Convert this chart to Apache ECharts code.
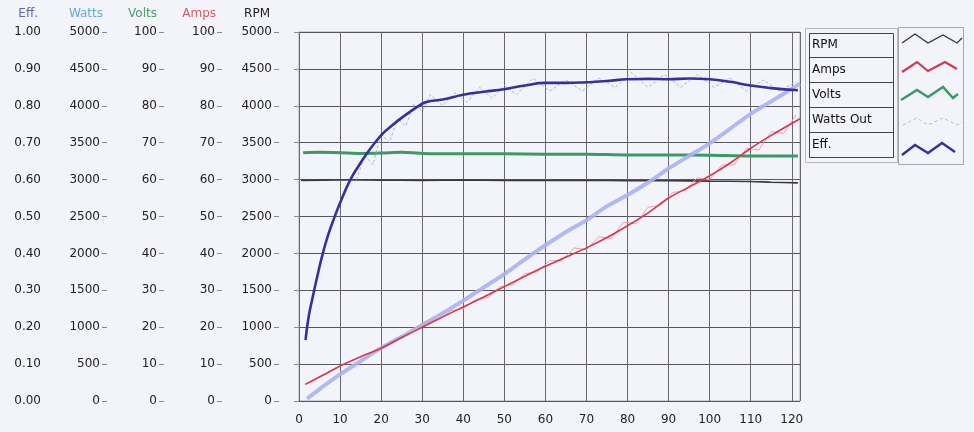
<!DOCTYPE html>
<html><head><meta charset="utf-8">
<script src="https://cdn.jsdelivr.net/npm/echarts@6/dist/echarts.min.js"></script>
<style>html,body{margin:0;padding:0;background:#f3f4f9}#c{width:974px;height:432px}</style>
</head><body><div id="c"></div>
<script>
// ---- axes ----
const axisNames = ['Eff.', 'Watts', 'Volts', 'Amps', 'RPM'];
const axisMax = [1, 5000, 100, 100, 5000];
const axisStep = [0.1, 500, 10, 10, 500];
const xTickStep = 10;
const xMax = 122;

// ---- series values [x, value] ----
const effPoints = [[1.6,0.165],[2.3,0.225],[3.3,0.28],[4.5,0.34],[5.8,0.40],[7.1,0.45],[8.6,0.497],[10.3,0.545],[12.4,0.597],[14.5,0.637],[16.6,0.672],[18.5,0.70],[20.5,0.726],[22.5,0.745],[24.6,0.764],[28.8,0.797],[31,0.81],[35,0.817],[40,0.83],[45,0.838],[50,0.845],[55,0.855],[60,0.862],[65,0.862],[70,0.864],[75,0.867],[80,0.872],[85,0.873],[90,0.872],[95,0.874],[100,0.872],[105,0.865],[110,0.855],[115,0.848],[121.5,0.842]];
const effRawPoints = [[14,0.60],[16,0.665],[18,0.64],[20,0.725],[22,0.70],[24,0.765],[26,0.745],[28,0.805],[30,0.785],[32,0.83],[35,0.80],[38,0.835],[41,0.81],[44,0.85],[47,0.82],[50,0.855],[53,0.83],[57,0.875],[61,0.84],[65,0.87],[69,0.84],[73,0.875],[77,0.85],[81,0.89],[85,0.85],[89,0.885],[93,0.85],[97,0.885],[101,0.85],[105,0.875],[109,0.84],[113,0.87],[117,0.84],[121,0.865]];
const wattsPoints = [[2,30],[5,160],[10,360],[15,540],[20,720],[25,870],[30,1030],[35,1190],[40,1360],[45,1540],[50,1720],[55,1920],[60,2110],[65,2290],[70,2450],[75,2640],[80,2790],[85,2960],[90,3150],[95,3320],[100,3490],[105,3690],[110,3890],[115,4060],[122,4300]];
const voltsPoints = [[1,67.3],[5,67.4],[10,67.3],[15,67.1],[20,67.2],[25,67.4],[30,67.1],[40,67.0],[50,67.0],[60,66.9],[70,66.9],[80,66.7],[90,66.7],[100,66.6],[110,66.4],[121.5,66.4]];
const ampsPoints = [[1.5,4.5],[5,6.5],[10,9.5],[15,12],[20,14.3],[25,17.2],[30,20],[35,22.8],[40,25.5],[45,28.2],[50,31],[55,33.8],[60,36.5],[65,39],[70,41.5],[75,44.3],[80,47.5],[85,51],[90,55],[95,58],[100,61],[105,64.5],[110,68.5],[115,72],[122,76.5]];
const ampsRawPoints = [[28,19.5],[31,21.5],[34,22],[37,24.5],[40,25],[43,27.5],[46,28],[49,31],[52,31.5],[55,34.5],[58,35],[61,38],[64,38],[67,41.5],[70,41],[73,44.5],[76,44],[79,48.5],[82,48],[85,52.5],[88,53],[91,56.5],[94,57],[97,60.5],[100,60],[103,64],[106,64],[109,68.5],[112,68],[115,73],[118,72.5],[121,77.5]];
const rpmPoints = [[0.5,2990],[10,2995],[20,2992],[30,2990],[40,2993],[50,2990],[60,2988],[70,2990],[80,2985],[90,2985],[100,2980],[110,2975],[115,2965],[121.5,2955]];
const legendLabels = ['RPM', 'Amps', 'Volts', 'Watts Out', 'Eff.'];

// ---- styles ----
const FONT = '"DejaVu Sans", Verdana, sans-serif';
const axisOffsets = [251, 192, 135, 77, 20];
const nameRight = [38, 103, 157, 216, 270];
const nameColors = ['#5a66b2', '#5fa8e6', '#4a9e64', '#d6596a', '#222'];

const chart = echarts.init(document.getElementById('c'));

const legendRows = [45, 69.5, 94.5, 119.5, 144.5];
const graphic = [
  {type:'rect', shape:{x:805.5, y:28.5, width:92, height:134}, style:{fill:'none', stroke:'#b8b8bc', lineWidth:1}},
  {type:'rect', shape:{x:898.5, y:27.5, width:65, height:137}, style:{fill:'none', stroke:'#a8a8ac', lineWidth:1}},
  {type:'rect', shape:{x:809.5, y:33.5, width:84, height:124}, style:{fill:'none', stroke:'#444', lineWidth:1}},
  {type:'line', shape:{x1:809.5, y1:57.5, x2:893.5, y2:57.5}, style:{stroke:'#444'}},
  {type:'line', shape:{x1:809.5, y1:82.5, x2:893.5, y2:82.5}, style:{stroke:'#444'}},
  {type:'line', shape:{x1:809.5, y1:107.5, x2:893.5, y2:107.5}, style:{stroke:'#444'}},
  {type:'line', shape:{x1:809.5, y1:132.5, x2:893.5, y2:132.5}, style:{stroke:'#444'}},
  {type:'polyline', shape:{points:[[902,43],[915,34],[928,43],[943,35],[957,43],[962,38]]}, style:{fill:'none', stroke:'#333', lineWidth:1.3}},
  {type:'polyline', shape:{points:[[902,72],[917,62],[928,71],[945,62],[957,69]]}, style:{fill:'none', stroke:'#d8354f', lineWidth:2.2}},
  {type:'polyline', shape:{points:[[901,100],[917,90],[928,97],[943,87],[953,98],[958,94]]}, style:{fill:'none', stroke:'#3d9a68', lineWidth:2.6}},
  {type:'polyline', shape:{points:[[903,125],[917,118],[928,125],[943,118],[957,125],[962,122]]}, style:{fill:'none', stroke:'#a8b8e0', lineWidth:1, lineDash:[3,3]}},
  {type:'polyline', shape:{points:[[902,155],[915,145],[928,153],[942,143],[955,152]]}, style:{fill:'none', stroke:'#3c2d9c', lineWidth:2.4}}
];
legendLabels.forEach((t, i) => graphic.push({type:'text', x:812, y:legendRows[i], style:{text:t, font:'12px ' + FONT, fill:'#111', verticalAlign:'middle'}}));
axisNames.forEach((t, i) => graphic.push({type:'text', x:nameRight[i], y:14, style:{text:t, font:'12px ' + FONT, fill:nameColors[i], align:'right', verticalAlign:'middle'}}));

chart.setOption({
  backgroundColor: '#f3f4f9',
  animation: false,
  grid: {left:299, right:174, top:32, bottom:31, show:true, borderColor:'#a9a9ad', borderWidth:1, backgroundColor:'transparent'},
  xAxis: {
    type:'value', min:0, max:xMax, interval:xTickStep,
    axisLine:{show:false}, axisTick:{show:false},
    axisLabel:{margin:13, color:'#222', fontFamily:FONT, fontSize:12, formatter: v => (v % xTickStep === 0 ? String(v) : '')},
    splitLine:{show:true, lineStyle:{color:'#6a6a6e', width:1}}
  },
  yAxis: axisNames.map((n, i) => ({
    type:'value', position:'left', offset:axisOffsets[i], min:0, max:axisMax[i], interval:axisStep[i],
    axisLine:{show:false},
    axisTick:{show:true, length:5, lineStyle:{color:'#8a8a8e'}},
    axisLabel:{margin:7, color:'#222', fontFamily:FONT, fontSize:12, formatter: i === 0 ? (v => v.toFixed(2)) : (v => String(v))},
    splitLine:{show:i === 4, lineStyle:{color:'#58585c', width:1}}
  })),
  graphic: graphic,
  series: [
    {name:'RPM', type:'line', yAxisIndex:4, data:rpmPoints, showSymbol:false, smooth:0.3, lineStyle:{color:'#3a3a3e', width:1.6}, z:3},
    {name:'Volts', type:'line', yAxisIndex:2, data:voltsPoints, showSymbol:false, smooth:0.3, lineStyle:{color:'#3d9a68', width:3}, z:4},
    {name:'Watts', type:'line', yAxisIndex:1, data:wattsPoints, showSymbol:false, smooth:0.3, lineStyle:{color:'#abb2ef', width:4, opacity:0.9}, z:5},
    {name:'Amps raw', type:'line', yAxisIndex:3, data:ampsRawPoints, showSymbol:false, lineStyle:{color:'#eaa0ac', width:1}, z:5},
    {name:'Amps', type:'line', yAxisIndex:3, data:ampsPoints, showSymbol:false, smooth:0.3, lineStyle:{color:'#d8354f', width:1.6}, z:6},
    {name:'Eff. raw', type:'line', yAxisIndex:0, data:effRawPoints, showSymbol:false, lineStyle:{color:'#a8b4d8', width:1, type:[3,2]}, z:6},
    {name:'Eff.', type:'line', yAxisIndex:0, data:effPoints, showSymbol:false, smooth:0.5, lineStyle:{color:'#3c2d9c', width:2.6}, z:7}
  ]
});
</script>
</body></html>
